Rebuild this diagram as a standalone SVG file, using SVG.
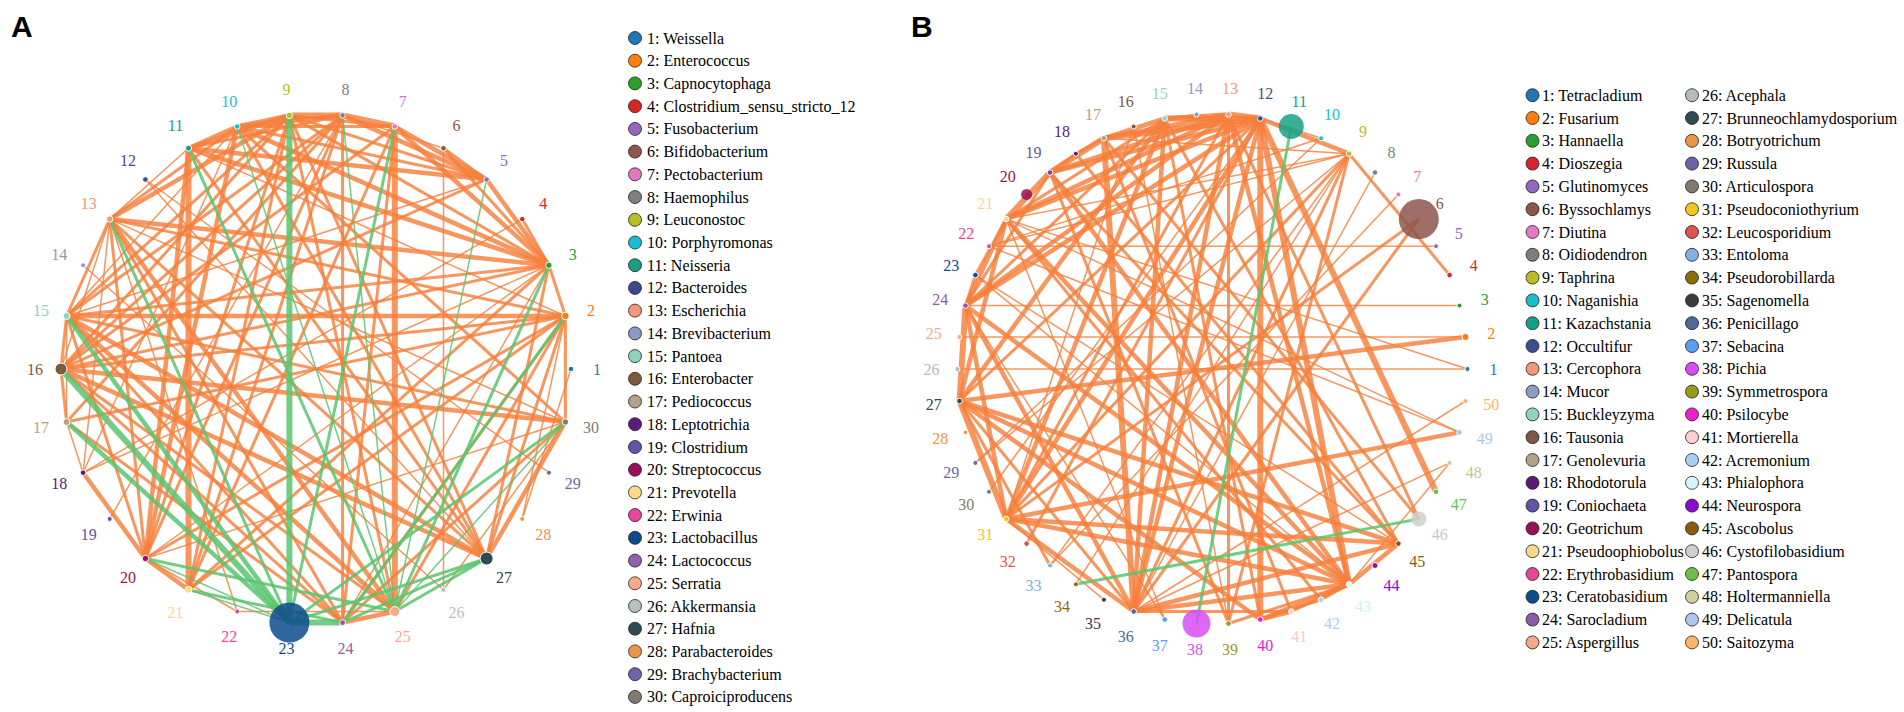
<svg xmlns="http://www.w3.org/2000/svg" width="1904" height="712" viewBox="0 0 1904 712">
<style>
.e{fill:none}
.o{stroke:#f57f3a;stroke-opacity:.82}
.g{stroke:#5cc46e;stroke-opacity:.85}
.w1{stroke-width:1.5}.w2{stroke-width:3}.w3{stroke-width:4.5}.w4{stroke-width:6}
.n{stroke:#fff;stroke-width:1}
.big{fill-opacity:.85;stroke:none}
.lbl{font-family:"Liberation Serif","Times New Roman",serif;font-size:16px;text-anchor:middle;dominant-baseline:central}
.leg{font-family:"Liberation Serif","Times New Roman",serif;font-size:16px;fill:#000}
.lc{stroke:#222;stroke-width:.8}
.panel{font-family:"Liberation Sans",Arial,sans-serif;font-weight:bold;font-size:30px;fill:#000}
</style>
<rect width="1904" height="712" fill="#fff"/>
<text class="panel" x="11" y="37">A</text>
<text class="panel" x="911" y="37">B</text>

<g id="connectors-A" class="e">
<path class="o w4" d="M342.6 115.4L289.4 115.4"/>
<path class="o w3" d="M289.4 115.4L237.2 126.5"/>
<path class="o w3" d="M237.2 126.5L188.5 148.2"/>
<path class="o w3" d="M289.4 115.4L188.5 148.2"/>
<path class="o w3" d="M342.6 115.4L237.2 126.5"/>
<path class="o w2" d="M342.6 115.4L188.5 148.2"/>
<path class="o w4" d="M394.8 126.5L342.6 115.4"/>
<path class="o w2" d="M394.8 126.5L289.4 115.4"/>
<path class="o w2" d="M394.8 126.5L237.2 126.5"/>
<path class="o w1" d="M443.5 148.2L342.6 115.4"/>
<path class="o w2" d="M443.5 148.2L486.6 179.5"/>
<path class="o w3" d="M394.8 126.5L486.6 179.5"/>
<path class="o w3" d="M342.6 115.4L486.6 179.5"/>
<path class="o w3" d="M486.6 179.5L548.9 265.3"/>
<path class="o w2" d="M522.3 219.1L548.9 265.3"/>
<path class="o w2" d="M443.5 148.2L548.9 265.3"/>
<path class="o w3" d="M394.8 126.5L548.9 265.3"/>
<path class="o w3" d="M188.5 148.2L486.6 179.5"/>
<path class="o w3" d="M188.5 148.2L548.9 265.3"/>
<path class="o w3" d="M237.2 126.5L548.9 265.3"/>
<path class="o w2" d="M237.2 126.5L486.6 179.5"/>
<path class="o w2" d="M289.4 115.4L486.6 179.5"/>
<path class="o w2" d="M289.4 115.4L548.9 265.3"/>
<path class="o w2" d="M109.7 219.1L237.2 126.5"/>
<path class="o w3" d="M109.7 219.1L289.4 115.4"/>
<path class="o w1" d="M109.7 219.1L188.5 148.2"/>
<path class="o w3" d="M109.7 219.1L548.9 265.3"/>
<path class="o w2" d="M109.7 219.1L565.4 316"/>
<path class="o w2" d="M109.7 219.1L66.6 316"/>
<path class="o w1" d="M109.7 219.1L61 369"/>
<path class="o w2" d="M109.7 219.1L342.6 622.6"/>
<path class="o w3" d="M109.7 219.1L394.8 611.5"/>
<path class="o w2" d="M109.7 219.1L486.6 558.5"/>
<path class="o w2" d="M109.7 219.1L145.4 558.5"/>
<path class="o w3" d="M66.6 316L565.4 316"/>
<path class="o w2" d="M66.6 316L548.9 265.3"/>
<path class="o w1" d="M66.6 316L486.6 179.5"/>
<path class="o w2" d="M66.6 316L289.4 115.4"/>
<path class="o w2" d="M66.6 316L342.6 115.4"/>
<path class="o w1" d="M66.6 316L237.2 126.5"/>
<path class="o w2" d="M66.6 316L61 369"/>
<path class="o w1" d="M66.6 316L66.6 422"/>
<path class="o w2" d="M66.6 316L145.4 558.5"/>
<path class="o w2" d="M66.6 316L342.6 622.6"/>
<path class="o w3" d="M66.6 316L394.8 611.5"/>
<path class="o w3" d="M66.6 316L486.6 558.5"/>
<path class="o w2" d="M66.6 316L565.4 422"/>
<path class="o w2" d="M61 369L66.6 422"/>
<path class="o w2" d="M61 369L565.4 316"/>
<path class="o w3" d="M61 369L565.4 422"/>
<path class="o w2" d="M61 369L342.6 622.6"/>
<path class="o w3" d="M61 369L486.6 558.5"/>
<path class="o w2" d="M61 369L394.8 611.5"/>
<path class="o w2" d="M61 369L289.4 115.4"/>
<path class="o w2" d="M66.6 422L565.4 316"/>
<path class="o w2" d="M66.6 422L342.6 115.4"/>
<path class="o w1" d="M66.6 422L83.1 472.7"/>
<path class="o w2" d="M66.6 422L342.6 622.6"/>
<path class="o w3" d="M83.1 472.7L145.4 558.5"/>
<path class="o w1" d="M83.1 472.7L548.9 265.3"/>
<path class="o w1" d="M83.1 472.7L237.2 126.5"/>
<path class="o w1" d="M83.1 472.7L109.7 219.1"/>
<path class="o w1" d="M109.7 518.9L342.6 115.4"/>
<path class="o w3" d="M145.4 558.5L188.5 589.8"/>
<path class="o w1" d="M145.4 558.5L237.2 611.5"/>
<path class="o w3" d="M145.4 558.5L188.5 148.2"/>
<path class="o w3" d="M145.4 558.5L237.2 126.5"/>
<path class="o w2" d="M145.4 558.5L289.4 115.4"/>
<path class="o w2" d="M145.4 558.5L342.6 115.4"/>
<path class="o w2" d="M145.4 558.5L565.4 316"/>
<path class="o w1" d="M145.4 558.5L548.9 265.3"/>
<path class="o w1" d="M145.4 558.5L565.4 422"/>
<path class="o w4" d="M188.5 589.8L188.5 148.2"/>
<path class="o w2" d="M188.5 589.8L289.4 115.4"/>
<path class="o w2" d="M188.5 589.8L342.6 115.4"/>
<path class="o w2" d="M188.5 589.8L394.8 126.5"/>
<path class="o w2" d="M188.5 589.8L548.9 265.3"/>
<path class="o w2" d="M188.5 589.8L565.4 316"/>
<path class="o w1" d="M237.2 611.5L394.8 611.5"/>
<path class="o w1" d="M237.2 611.5L109.7 219.1"/>
<path class="o w3" d="M342.6 622.6L394.8 611.5"/>
<path class="o w2" d="M342.6 622.6L342.6 115.4"/>
<path class="o w2" d="M342.6 622.6L394.8 126.5"/>
<path class="o w2" d="M342.6 622.6L565.4 316"/>
<path class="o w1" d="M342.6 622.6L548.9 265.3"/>
<path class="o w2" d="M342.6 622.6L565.4 422"/>
<path class="o w4" d="M394.8 611.5L394.8 126.5"/>
<path class="o w2" d="M394.8 611.5L565.4 316"/>
<path class="o w2" d="M394.8 611.5L289.4 115.4"/>
<path class="o w1" d="M443.5 589.8L443.5 148.2"/>
<path class="o w1" d="M443.5 589.8L565.4 422"/>
<path class="o w3" d="M486.6 558.5L565.4 422"/>
<path class="o w2" d="M486.6 558.5L565.4 316"/>
<path class="o w2" d="M486.6 558.5L548.9 265.3"/>
<path class="o w1" d="M486.6 558.5L145.4 179.5"/>
<path class="o w2" d="M486.6 558.5L188.5 148.2"/>
<path class="o w2" d="M486.6 558.5L237.2 126.5"/>
<path class="o w2" d="M486.6 558.5L289.4 115.4"/>
<path class="o w1" d="M522.3 518.9L571 369"/>
<path class="o w1" d="M522.3 518.9L565.4 316"/>
<path class="o w1" d="M548.9 472.7L145.4 179.5"/>
<path class="o w1" d="M83.1 265.3L443.5 589.8"/>
<path class="o w2" d="M565.4 422L565.4 316"/>
<path class="o w1" d="M565.4 422L109.7 219.1"/>
<path class="o w2" d="M565.4 422L237.2 126.5"/>
<path class="o w2" d="M565.4 316L548.9 265.3"/>
<path class="o w1" d="M522.3 219.1L83.1 472.7"/>
<path class="o w2" d="M394.8 126.5L61 369"/>
<path class="o w2" d="M342.6 115.4L61 369"/>
<path class="o w2" d="M486.6 179.5L61 369"/>
<path class="o w2" d="M548.9 265.3L61 369"/>
<path class="o w1" d="M188.5 148.2L565.4 316"/>
<path class="g w4" d="M289.4 115.4L289.4 622.6"/>
<path class="g w2" d="M394.8 126.5L289.4 622.6"/>
<path class="g w2" d="M188.5 148.2L394.8 611.5"/>
<path class="g w1" d="M237.2 126.5L394.8 611.5"/>
<path class="g w1" d="M342.6 115.4L394.8 611.5"/>
<path class="g w1" d="M486.6 179.5L394.8 611.5"/>
<path class="g w2" d="M548.9 265.3L394.8 611.5"/>
<path class="g w2" d="M565.4 316L342.6 622.6"/>
<path class="g w2" d="M109.7 219.1L289.4 622.6"/>
<path class="g w3" d="M66.6 316L289.4 622.6"/>
<path class="g w4" d="M61 369L289.4 622.6"/>
<path class="g w3" d="M66.6 422L289.4 622.6"/>
<path class="g w2" d="M145.4 558.5L394.8 611.5"/>
<path class="g w2" d="M188.5 589.8L342.6 622.6"/>
<path class="g w1" d="M188.5 589.8L289.4 622.6"/>
<path class="g w4" d="M289.4 622.6L342.6 622.6"/>
<path class="g w2" d="M486.6 558.5L289.4 622.6"/>
<path class="g w2" d="M486.6 558.5L342.6 622.6"/>
<path class="g w2" d="M486.6 558.5L394.8 611.5"/>
<path class="g w2" d="M565.4 422L289.4 622.6"/>
<path class="g w1" d="M565.4 422L394.8 611.5"/>
<path class="g w1" d="M145.4 558.5L289.4 622.6"/>
</g>

<g id="connectors-B" class="e">
<path class="o w4" d="M1260.3 118.5L1228.5 114.5"/>
<path class="o w4" d="M1260.3 118.5L1164.7 118.5"/>
<path class="o w3" d="M1228.5 114.5L1164.7 118.5"/>
<path class="o w1" d="M1196.5 114.5L1164.7 118.5"/>
<path class="o w4" d="M1260.3 118.5L1103.9 138.3"/>
<path class="o w3" d="M1228.5 114.5L1103.9 138.3"/>
<path class="o w3" d="M1164.7 118.5L1103.9 138.3"/>
<path class="o w2" d="M1103.9 138.3L1075.9 153.7"/>
<path class="o w4" d="M1103.9 138.3L1050 172.5"/>
<path class="o w2" d="M1075.9 153.7L1050 172.5"/>
<path class="o w4" d="M1050 172.5L1006.2 219.1"/>
<path class="o w3" d="M1050 172.5L1260.3 118.5"/>
<path class="o w3" d="M1050 172.5L1228.5 114.5"/>
<path class="o w3" d="M1006.2 219.1L965.5 305.6"/>
<path class="o w2" d="M1006.2 219.1L975.4 275.1"/>
<path class="o w2" d="M975.4 275.1L965.5 305.6"/>
<path class="o w4" d="M965.5 305.6L959.5 401"/>
<path class="o w3" d="M1006.2 219.1L1260.3 118.5"/>
<path class="o w3" d="M1006.2 219.1L1228.5 114.5"/>
<path class="o w2" d="M1006.2 219.1L1164.7 118.5"/>
<path class="o w3" d="M1260.3 118.5L1349.1 153.7"/>
<path class="o w1" d="M1260.3 118.5L1321.1 138.3"/>
<path class="o w1" d="M1349.1 153.7L1103.9 138.3"/>
<path class="o w1" d="M1349.1 153.7L1006.2 219.1"/>
<path class="o w1" d="M1349.1 153.7L989 246.2"/>
<path class="o w1" d="M1321.1 138.3L989 246.2"/>
<path class="o w2" d="M1349.1 153.7L1449.6 275.1"/>
<path class="o w1" d="M1375 172.5L1133.7 611.5"/>
<path class="o w1" d="M1398.4 194.4L1050 565.5"/>
<path class="o w1" d="M1436 246.2L989 246.2"/>
<path class="o w2" d="M1418.8 219.1L1006.2 518.9"/>
<path class="o w2" d="M1418.8 219.1L1133.7 611.5"/>
<path class="o w1" d="M1459.5 305.6L965.5 305.6"/>
<path class="o w1" d="M1465.5 337L959.5 337"/>
<path class="o w3" d="M1465.5 337L959.5 401"/>
<path class="o w1" d="M1467.5 369L957.5 369"/>
<path class="o w1" d="M1467.5 369L1006.2 219.1"/>
<path class="o w1" d="M1465.5 401L1133.7 611.5"/>
<path class="o w3" d="M1459.5 432.4L1006.2 518.9"/>
<path class="o w1" d="M1459.5 432.4L1006.2 219.1"/>
<path class="o w1" d="M1449.6 462.9L1133.7 611.5"/>
<path class="o w1" d="M1449.6 462.9L1349.1 584.3"/>
<path class="o w4" d="M1436 491.8L1260.3 118.5"/>
<path class="o w2" d="M1418.8 518.9L1103.9 138.3"/>
<path class="o w4" d="M1260.3 118.5L1349.1 584.3"/>
<path class="o w3" d="M1228.5 114.5L1349.1 584.3"/>
<path class="o w3" d="M1050 172.5L1349.1 584.3"/>
<path class="o w3" d="M1006.2 219.1L1349.1 584.3"/>
<path class="o w3" d="M965.5 305.6L1349.1 584.3"/>
<path class="o w3" d="M959.5 401L1349.1 584.3"/>
<path class="o w3" d="M1006.2 518.9L1349.1 584.3"/>
<path class="o w3" d="M1133.7 611.5L1349.1 584.3"/>
<path class="o w3" d="M1260.3 619.5L1349.1 584.3"/>
<path class="o w3" d="M1349.1 584.3L1398.4 543.6"/>
<path class="o w2" d="M1291.3 611.5L1349.1 584.3"/>
<path class="o w2" d="M1321.1 599.7L1349.1 584.3"/>
<path class="o w4" d="M1260.3 118.5L1260.3 619.5"/>
<path class="o w2" d="M1228.5 114.5L1228.5 623.5"/>
<path class="o w2" d="M1164.7 118.5L1260.3 619.5"/>
<path class="o w3" d="M1260.3 619.5L1291.3 611.5"/>
<path class="o w2" d="M1260.3 619.5L1321.1 599.7"/>
<path class="o w3" d="M1260.3 619.5L959.5 401"/>
<path class="o w2" d="M1228.5 623.5L1349.1 584.3"/>
<path class="o w2" d="M1228.5 623.5L1349.1 153.7"/>
<path class="o w2" d="M1050 172.5L1228.5 623.5"/>
<path class="o w4" d="M1133.7 611.5L1103.9 138.3"/>
<path class="o w3" d="M1133.7 611.5L1164.7 118.5"/>
<path class="o w3" d="M1133.7 611.5L1228.5 114.5"/>
<path class="o w3" d="M1133.7 611.5L1260.3 118.5"/>
<path class="o w3" d="M1133.7 611.5L965.5 305.6"/>
<path class="o w2" d="M1133.7 611.5L959.5 401"/>
<path class="o w3" d="M1133.7 611.5L1006.2 518.9"/>
<path class="o w3" d="M1133.7 611.5L1398.4 543.6"/>
<path class="o w2" d="M1133.7 611.5L1291.3 611.5"/>
<path class="o w2" d="M1133.7 611.5L1349.1 153.7"/>
<path class="o w1" d="M1164.7 619.5L1006.2 219.1"/>
<path class="o w1" d="M1164.7 619.5L965.5 305.6"/>
<path class="o w1" d="M1103.9 599.7L1006.2 518.9"/>
<path class="o w1" d="M1075.9 584.3L1349.1 153.7"/>
<path class="o w2" d="M1050 565.5L959.5 401"/>
<path class="o w2" d="M1026.6 543.6L1260.3 118.5"/>
<path class="o w4" d="M1006.2 518.9L959.5 401"/>
<path class="o w3" d="M1006.2 518.9L965.5 305.6"/>
<path class="o w3" d="M1006.2 518.9L1398.4 543.6"/>
<path class="o w3" d="M1006.2 518.9L1260.3 118.5"/>
<path class="o w2" d="M1006.2 518.9L1228.5 114.5"/>
<path class="o w3" d="M1006.2 518.9L1164.7 118.5"/>
<path class="o w2" d="M1006.2 518.9L1349.1 153.7"/>
<path class="o w1" d="M989 491.8L1260.3 118.5"/>
<path class="o w1" d="M975.4 462.9L1349.1 153.7"/>
<path class="o w3" d="M959.5 401L1398.4 543.6"/>
<path class="o w2" d="M959.5 401L1260.3 118.5"/>
<path class="o w3" d="M959.5 401L1164.7 118.5"/>
<path class="o w3" d="M959.5 401L1006.2 219.1"/>
<path class="o w3" d="M965.5 305.6L1260.3 118.5"/>
<path class="o w3" d="M965.5 305.6L1228.5 114.5"/>
<path class="o w2" d="M965.5 305.6L1164.7 118.5"/>
<path class="o w2" d="M965.5 305.6L1050 172.5"/>
<path class="o w1" d="M975.4 275.1L1349.1 584.3"/>
<path class="o w1" d="M975.4 275.1L1398.4 543.6"/>
<path class="o w2" d="M1398.4 543.6L1164.7 118.5"/>
<path class="o w2" d="M1398.4 543.6L1050 172.5"/>
<path class="o w2" d="M1418.8 518.9L1228.5 114.5"/>
<path class="o w2" d="M1321.1 599.7L1006.2 219.1"/>
<path class="o w1" d="M1050 565.5L1349.1 153.7"/>
<path class="o w1" d="M975.4 462.9L1321.1 138.3"/>
<path class="o w2" d="M1075.9 153.7L1398.4 543.6"/>
<path class="o w2" d="M1103.9 138.3L1291.3 611.5"/>
<path class="o w1" d="M1133.7 126.5L1006.2 518.9"/>
<path class="o w1" d="M1133.7 126.5L1228.5 623.5"/>
<path class="o w1" d="M989 246.2L1459.5 432.4"/>
<path class="g w2" d="M1291.3 126.5L1196.5 623.5"/>
<path class="g w2" d="M1075.9 584.3L1418.8 518.9"/>
</g>

<g id="nodes-A">
<g id="a-n1"><circle class="n" cx="571" cy="369" r="2.8" fill="#1f77b4"/><text class="lbl" x="597" y="369" fill="#1f77b4">1</text></g>
<g id="a-n2"><circle class="n" cx="565.4" cy="316" r="3.8" fill="#ff7f0e"/><text class="lbl" x="590.9" y="310.6" fill="#ff7f0e">2</text></g>
<g id="a-n3"><circle class="n" cx="548.9" cy="265.3" r="3.2" fill="#2ca02c"/><text class="lbl" x="572.7" y="254.7" fill="#2ca02c">3</text></g>
<g id="a-n4"><circle class="n" cx="522.3" cy="219.1" r="2.8" fill="#d62728"/><text class="lbl" x="543.3" y="203.8" fill="#d62728">4</text></g>
<g id="a-n5"><circle class="n" cx="486.6" cy="179.5" r="2.8" fill="#9467bd"/><text class="lbl" x="504" y="160.2" fill="#9467bd">5</text></g>
<g id="a-n6"><circle class="n" cx="443.5" cy="148.2" r="2.8" fill="#8c564b"/><text class="lbl" x="456.5" y="125.7" fill="#8c564b">6</text></g>
<g id="a-n7"><circle class="n" cx="394.8" cy="126.5" r="2.8" fill="#e377c2"/><text class="lbl" x="402.8" y="101.7" fill="#e377c2">7</text></g>
<g id="a-n8"><circle class="n" cx="342.6" cy="115.4" r="2.8" fill="#7f7f7f"/><text class="lbl" x="345.4" y="89.5" fill="#7f7f7f">8</text></g>
<g id="a-n9"><circle class="n" cx="289.4" cy="115.4" r="3.2" fill="#bcbd22"/><text class="lbl" x="286.6" y="89.5" fill="#bcbd22">9</text></g>
<g id="a-n10"><circle class="n" cx="237.2" cy="126.5" r="2.8" fill="#17becf"/><text class="lbl" x="229.2" y="101.7" fill="#17becf">10</text></g>
<g id="a-n11"><circle class="n" cx="188.5" cy="148.2" r="3" fill="#1a9e86"/><text class="lbl" x="175.5" y="125.7" fill="#1a9e86">11</text></g>
<g id="a-n12"><circle class="n" cx="145.4" cy="179.5" r="2.8" fill="#3b4a8c"/><text class="lbl" x="128" y="160.2" fill="#3b4a8c">12</text></g>
<g id="a-n13"><circle class="n" cx="109.7" cy="219.1" r="3.2" fill="#f4967a"/><text class="lbl" x="88.7" y="203.8" fill="#f4967a">13</text></g>
<g id="a-n14"><circle class="n" cx="83.1" cy="265.3" r="2.5" fill="#8b9bc4"/><text class="lbl" x="59.3" y="254.7" fill="#8b9bc4">14</text></g>
<g id="a-n15"><circle class="n" cx="66.6" cy="316" r="3.5" fill="#8dd3c0"/><text class="lbl" x="41.1" y="310.6" fill="#8dd3c0">15</text></g>
<g id="a-n16"><circle class="n" cx="61" cy="369" r="6" fill="#7b5b3f"/><text class="lbl" x="35" y="369" fill="#7b5b3f">16</text></g>
<g id="a-n17"><circle class="n" cx="66.6" cy="422" r="3.5" fill="#b3a286"/><text class="lbl" x="41.1" y="427.4" fill="#b3a286">17</text></g>
<g id="a-n18"><circle class="n" cx="83.1" cy="472.7" r="2.8" fill="#5c1a7b"/><text class="lbl" x="59.3" y="483.3" fill="#5c1a7b">18</text></g>
<g id="a-n19"><circle class="n" cx="109.7" cy="518.9" r="2.5" fill="#5e55a5"/><text class="lbl" x="88.7" y="534.2" fill="#5e55a5">19</text></g>
<g id="a-n20"><circle class="n" cx="145.4" cy="558.5" r="3.2" fill="#9c0e58"/><text class="lbl" x="128" y="577.8" fill="#9c0e58">20</text></g>
<g id="a-n21"><circle class="n" cx="188.5" cy="589.8" r="3.5" fill="#fdd98b"/><text class="lbl" x="175.5" y="612.3" fill="#fdd98b">21</text></g>
<g id="a-n22"><circle class="n" cx="237.2" cy="611.5" r="2.5" fill="#e8479b"/><text class="lbl" x="229.2" y="636.3" fill="#e8479b">22</text></g>
<g id="a-n23"><circle class="big" cx="289.4" cy="622.6" r="20" fill="#0d4a8c"/><text class="lbl" x="286.6" y="648.5" fill="#0d4a8c">23</text></g>
<g id="a-n24"><circle class="n" cx="342.6" cy="622.6" r="3" fill="#9460aa"/><text class="lbl" x="345.4" y="648.5" fill="#9460aa">24</text></g>
<g id="a-n25"><circle class="n" cx="394.8" cy="611.5" r="5" fill="#f9a98b"/><text class="lbl" x="402.8" y="636.3" fill="#f9a98b">25</text></g>
<g id="a-n26"><circle class="n" cx="443.5" cy="589.8" r="2.5" fill="#b8c0bf"/><text class="lbl" x="456.5" y="612.3" fill="#b8c0bf">26</text></g>
<g id="a-n27"><circle class="n" cx="486.6" cy="558.5" r="6.5" fill="#2f4a52"/><text class="lbl" x="504" y="577.8" fill="#2f4a52">27</text></g>
<g id="a-n28"><circle class="n" cx="522.3" cy="518.9" r="2.5" fill="#e9964b"/><text class="lbl" x="543.3" y="534.2" fill="#e9964b">28</text></g>
<g id="a-n29"><circle class="n" cx="548.9" cy="472.7" r="2.5" fill="#6d65a6"/><text class="lbl" x="572.7" y="483.3" fill="#6d65a6">29</text></g>
<g id="a-n30"><circle class="n" cx="565.4" cy="422" r="3.2" fill="#807b6e"/><text class="lbl" x="590.9" y="427.4" fill="#807b6e">30</text></g>
</g>

<g id="nodes-B">
<g id="b-n1"><circle class="n" cx="1467.5" cy="369" r="2.5" fill="#1f77b4"/><text class="lbl" x="1493.5" y="369" fill="#1f77b4">1</text></g>
<g id="b-n2"><circle class="n" cx="1465.5" cy="337" r="3.5" fill="#ff7f0e"/><text class="lbl" x="1491.3" y="333.8" fill="#ff7f0e">2</text></g>
<g id="b-n3"><circle class="n" cx="1459.5" cy="305.6" r="2.5" fill="#2ca02c"/><text class="lbl" x="1484.7" y="299.1" fill="#2ca02c">3</text></g>
<g id="b-n4"><circle class="n" cx="1449.6" cy="275.1" r="2.8" fill="#d62728"/><text class="lbl" x="1473.8" y="265.6" fill="#d62728">4</text></g>
<g id="b-n5"><circle class="n" cx="1436" cy="246.2" r="2.5" fill="#9467bd"/><text class="lbl" x="1458.7" y="233.6" fill="#9467bd">5</text></g>
<g id="b-n6"><circle class="big" cx="1418.8" cy="219.1" r="20" fill="#8c564b"/><text class="lbl" x="1439.8" y="203.8" fill="#8c564b">6</text></g>
<g id="b-n7"><circle class="n" cx="1398.4" cy="194.4" r="2.5" fill="#e377c2"/><text class="lbl" x="1417.3" y="176.6" fill="#e377c2">7</text></g>
<g id="b-n8"><circle class="n" cx="1375" cy="172.5" r="2.8" fill="#7f7f7f"/><text class="lbl" x="1391.6" y="152.5" fill="#7f7f7f">8</text></g>
<g id="b-n9"><circle class="n" cx="1349.1" cy="153.7" r="2.8" fill="#bcbd22"/><text class="lbl" x="1363.1" y="131.7" fill="#bcbd22">9</text></g>
<g id="b-n10"><circle class="n" cx="1321.1" cy="138.3" r="2.5" fill="#17becf"/><text class="lbl" x="1332.1" y="114.7" fill="#17becf">10</text></g>
<g id="b-n11"><circle class="big" cx="1291.3" cy="126.5" r="12.5" fill="#17a085"/><text class="lbl" x="1299.3" y="101.8" fill="#17a085">11</text></g>
<g id="b-n12"><circle class="n" cx="1260.3" cy="118.5" r="2.8" fill="#3b4f8a"/><text class="lbl" x="1265.2" y="93" fill="#3b4f8a">12</text></g>
<g id="b-n13"><circle class="n" cx="1228.5" cy="114.5" r="2.8" fill="#f4977b"/><text class="lbl" x="1230.1" y="88.6" fill="#f4977b">13</text></g>
<g id="b-n14"><circle class="n" cx="1196.5" cy="114.5" r="2.5" fill="#8c9cc3"/><text class="lbl" x="1194.9" y="88.6" fill="#8c9cc3">14</text></g>
<g id="b-n15"><circle class="n" cx="1164.7" cy="118.5" r="2.8" fill="#8fd3c1"/><text class="lbl" x="1159.8" y="93" fill="#8fd3c1">15</text></g>
<g id="b-n16"><circle class="n" cx="1133.7" cy="126.5" r="2.5" fill="#7a5a44"/><text class="lbl" x="1125.7" y="101.8" fill="#7a5a44">16</text></g>
<g id="b-n17"><circle class="n" cx="1103.9" cy="138.3" r="2.8" fill="#b3a184"/><text class="lbl" x="1092.9" y="114.7" fill="#b3a184">17</text></g>
<g id="b-n18"><circle class="n" cx="1075.9" cy="153.7" r="2.5" fill="#5a1a79"/><text class="lbl" x="1061.9" y="131.7" fill="#5a1a79">18</text></g>
<g id="b-n19"><circle class="n" cx="1050" cy="172.5" r="2.8" fill="#5e56a3"/><text class="lbl" x="1033.4" y="152.5" fill="#5e56a3">19</text></g>
<g id="b-n20"><circle class="big" cx="1026.6" cy="194.4" r="5.5" fill="#9c0d57"/><text class="lbl" x="1007.7" y="176.6" fill="#9c0d57">20</text></g>
<g id="b-n21"><circle class="n" cx="1006.2" cy="219.1" r="2.8" fill="#fcd98a"/><text class="lbl" x="985.2" y="203.8" fill="#fcd98a">21</text></g>
<g id="b-n22"><circle class="n" cx="989" cy="246.2" r="2.5" fill="#e8459a"/><text class="lbl" x="966.3" y="233.6" fill="#e8459a">22</text></g>
<g id="b-n23"><circle class="n" cx="975.4" cy="275.1" r="2.8" fill="#0d4d8c"/><text class="lbl" x="951.2" y="265.6" fill="#0d4d8c">23</text></g>
<g id="b-n24"><circle class="n" cx="965.5" cy="305.6" r="2.8" fill="#8f5aa5"/><text class="lbl" x="940.3" y="299.1" fill="#8f5aa5">24</text></g>
<g id="b-n25"><circle class="n" cx="959.5" cy="337" r="2.5" fill="#f7a88a"/><text class="lbl" x="933.7" y="333.8" fill="#f7a88a">25</text></g>
<g id="b-n26"><circle class="n" cx="957.5" cy="369" r="2.5" fill="#b5bdbc"/><text class="lbl" x="931.5" y="369" fill="#b5bdbc">26</text></g>
<g id="b-n27"><circle class="n" cx="959.5" cy="401" r="2.8" fill="#2f4b53"/><text class="lbl" x="933.7" y="404.2" fill="#2f4b53">27</text></g>
<g id="b-n28"><circle class="n" cx="965.5" cy="432.4" r="2.2" fill="#e8964a"/><text class="lbl" x="940.3" y="438.9" fill="#e8964a">28</text></g>
<g id="b-n29"><circle class="n" cx="975.4" cy="462.9" r="2.5" fill="#6c65a3"/><text class="lbl" x="951.2" y="472.4" fill="#6c65a3">29</text></g>
<g id="b-n30"><circle class="n" cx="989" cy="491.8" r="2.5" fill="#7f7a6d"/><text class="lbl" x="966.3" y="504.4" fill="#7f7a6d">30</text></g>
<g id="b-n31"><circle class="n" cx="1006.2" cy="518.9" r="2.8" fill="#f5c518"/><text class="lbl" x="985.2" y="534.2" fill="#f5c518">31</text></g>
<g id="b-n32"><circle class="n" cx="1026.6" cy="543.6" r="2.8" fill="#d9534f"/><text class="lbl" x="1007.7" y="561.4" fill="#d9534f">32</text></g>
<g id="b-n33"><circle class="n" cx="1050" cy="565.5" r="2.5" fill="#7fb0e6"/><text class="lbl" x="1033.4" y="585.5" fill="#7fb0e6">33</text></g>
<g id="b-n34"><circle class="n" cx="1075.9" cy="584.3" r="2.5" fill="#8a6d0b"/><text class="lbl" x="1061.9" y="606.3" fill="#8a6d0b">34</text></g>
<g id="b-n35"><circle class="n" cx="1103.9" cy="599.7" r="2.5" fill="#3a3a3a"/><text class="lbl" x="1092.9" y="623.3" fill="#3a3a3a">35</text></g>
<g id="b-n36"><circle class="n" cx="1133.7" cy="611.5" r="2.8" fill="#4a6a95"/><text class="lbl" x="1125.7" y="636.2" fill="#4a6a95">36</text></g>
<g id="b-n37"><circle class="n" cx="1164.7" cy="619.5" r="2.8" fill="#5b9cf5"/><text class="lbl" x="1159.8" y="645" fill="#5b9cf5">37</text></g>
<g id="b-n38"><circle class="big" cx="1196.5" cy="623.5" r="14" fill="#d94cf5"/><text class="lbl" x="1194.9" y="649.4" fill="#d94cf5">38</text></g>
<g id="b-n39"><circle class="n" cx="1228.5" cy="623.5" r="2.8" fill="#999a22"/><text class="lbl" x="1230.1" y="649.4" fill="#999a22">39</text></g>
<g id="b-n40"><circle class="n" cx="1260.3" cy="619.5" r="2.8" fill="#f01cd0"/><text class="lbl" x="1265.2" y="645" fill="#f01cd0">40</text></g>
<g id="b-n41"><circle class="n" cx="1291.3" cy="611.5" r="2.8" fill="#fcd0d0"/><text class="lbl" x="1299.3" y="636.2" fill="#fcc8c8">41</text></g>
<g id="b-n42"><circle class="n" cx="1321.1" cy="599.7" r="2.8" fill="#a6d0f5"/><text class="lbl" x="1332.1" y="623.3" fill="#a6d0f5">42</text></g>
<g id="b-n43"><circle class="n" cx="1349.1" cy="584.3" r="2.8" fill="#d4f8fa"/><text class="lbl" x="1363.1" y="606.3" fill="#c8f4f7">43</text></g>
<g id="b-n44"><circle class="n" cx="1375" cy="565.5" r="3" fill="#8b0bd0"/><text class="lbl" x="1391.6" y="585.5" fill="#8b0bd0">44</text></g>
<g id="b-n45"><circle class="n" cx="1398.4" cy="543.6" r="2.8" fill="#8b5a0b"/><text class="lbl" x="1417.3" y="561.4" fill="#8b5a0b">45</text></g>
<g id="b-n46"><circle class="big" cx="1418.8" cy="518.9" r="7.5" fill="#cfcfcf"/><text class="lbl" x="1439.8" y="534.2" fill="#c8c8c8">46</text></g>
<g id="b-n47"><circle class="n" cx="1436" cy="491.8" r="2.8" fill="#6cc04a"/><text class="lbl" x="1458.7" y="504.4" fill="#6cc04a">47</text></g>
<g id="b-n48"><circle class="n" cx="1449.6" cy="462.9" r="2.5" fill="#cfcf9f"/><text class="lbl" x="1473.8" y="472.4" fill="#c4c48f">48</text></g>
<g id="b-n49"><circle class="n" cx="1459.5" cy="432.4" r="2.8" fill="#aec7e8"/><text class="lbl" x="1484.7" y="438.9" fill="#aec7e8">49</text></g>
<g id="b-n50"><circle class="n" cx="1465.5" cy="401" r="2.5" fill="#fdb46b"/><text class="lbl" x="1491.3" y="404.2" fill="#fdb46b">50</text></g>
</g>

<g id="legend-A">
<g transform="translate(0,38)"><circle class="lc" cx="635" r="6.5" fill="#1f77b4"/><text class="leg" x="647" y="5.5">1: Weissella</text></g>
<g transform="translate(0,60.7)"><circle class="lc" cx="635" r="6.5" fill="#ff7f0e"/><text class="leg" x="647" y="5.5">2: Enterococcus</text></g>
<g transform="translate(0,83.4)"><circle class="lc" cx="635" r="6.5" fill="#2ca02c"/><text class="leg" x="647" y="5.5">3: Capnocytophaga</text></g>
<g transform="translate(0,106.2)"><circle class="lc" cx="635" r="6.5" fill="#d62728"/><text class="leg" x="647" y="5.5">4: Clostridium_sensu_stricto_12</text></g>
<g transform="translate(0,128.9)"><circle class="lc" cx="635" r="6.5" fill="#9467bd"/><text class="leg" x="647" y="5.5">5: Fusobacterium</text></g>
<g transform="translate(0,151.6)"><circle class="lc" cx="635" r="6.5" fill="#8c564b"/><text class="leg" x="647" y="5.5">6: Bifidobacterium</text></g>
<g transform="translate(0,174.3)"><circle class="lc" cx="635" r="6.5" fill="#e377c2"/><text class="leg" x="647" y="5.5">7: Pectobacterium</text></g>
<g transform="translate(0,197)"><circle class="lc" cx="635" r="6.5" fill="#7f7f7f"/><text class="leg" x="647" y="5.5">8: Haemophilus</text></g>
<g transform="translate(0,219.8)"><circle class="lc" cx="635" r="6.5" fill="#bcbd22"/><text class="leg" x="647" y="5.5">9: Leuconostoc</text></g>
<g transform="translate(0,242.5)"><circle class="lc" cx="635" r="6.5" fill="#17becf"/><text class="leg" x="647" y="5.5">10: Porphyromonas</text></g>
<g transform="translate(0,265.2)"><circle class="lc" cx="635" r="6.5" fill="#1a9e86"/><text class="leg" x="647" y="5.5">11: Neisseria</text></g>
<g transform="translate(0,287.9)"><circle class="lc" cx="635" r="6.5" fill="#3b4a8c"/><text class="leg" x="647" y="5.5">12: Bacteroides</text></g>
<g transform="translate(0,310.6)"><circle class="lc" cx="635" r="6.5" fill="#f4967a"/><text class="leg" x="647" y="5.5">13: Escherichia</text></g>
<g transform="translate(0,333.4)"><circle class="lc" cx="635" r="6.5" fill="#8b9bc4"/><text class="leg" x="647" y="5.5">14: Brevibacterium</text></g>
<g transform="translate(0,356.1)"><circle class="lc" cx="635" r="6.5" fill="#8dd3c0"/><text class="leg" x="647" y="5.5">15: Pantoea</text></g>
<g transform="translate(0,378.8)"><circle class="lc" cx="635" r="6.5" fill="#7b5b3f"/><text class="leg" x="647" y="5.5">16: Enterobacter</text></g>
<g transform="translate(0,401.5)"><circle class="lc" cx="635" r="6.5" fill="#b3a286"/><text class="leg" x="647" y="5.5">17: Pediococcus</text></g>
<g transform="translate(0,424.2)"><circle class="lc" cx="635" r="6.5" fill="#5c1a7b"/><text class="leg" x="647" y="5.5">18: Leptotrichia</text></g>
<g transform="translate(0,447)"><circle class="lc" cx="635" r="6.5" fill="#5e55a5"/><text class="leg" x="647" y="5.5">19: Clostridium</text></g>
<g transform="translate(0,469.7)"><circle class="lc" cx="635" r="6.5" fill="#9c0e58"/><text class="leg" x="647" y="5.5">20: Streptococcus</text></g>
<g transform="translate(0,492.4)"><circle class="lc" cx="635" r="6.5" fill="#fdd98b"/><text class="leg" x="647" y="5.5">21: Prevotella</text></g>
<g transform="translate(0,515.1)"><circle class="lc" cx="635" r="6.5" fill="#e8479b"/><text class="leg" x="647" y="5.5">22: Erwinia</text></g>
<g transform="translate(0,537.8)"><circle class="lc" cx="635" r="6.5" fill="#0d4a8c"/><text class="leg" x="647" y="5.5">23: Lactobacillus</text></g>
<g transform="translate(0,560.6)"><circle class="lc" cx="635" r="6.5" fill="#9460aa"/><text class="leg" x="647" y="5.5">24: Lactococcus</text></g>
<g transform="translate(0,583.3)"><circle class="lc" cx="635" r="6.5" fill="#f9a98b"/><text class="leg" x="647" y="5.5">25: Serratia</text></g>
<g transform="translate(0,606)"><circle class="lc" cx="635" r="6.5" fill="#b8c0bf"/><text class="leg" x="647" y="5.5">26: Akkermansia</text></g>
<g transform="translate(0,628.7)"><circle class="lc" cx="635" r="6.5" fill="#2f4a52"/><text class="leg" x="647" y="5.5">27: Hafnia</text></g>
<g transform="translate(0,651.4)"><circle class="lc" cx="635" r="6.5" fill="#e9964b"/><text class="leg" x="647" y="5.5">28: Parabacteroides</text></g>
<g transform="translate(0,674.2)"><circle class="lc" cx="635" r="6.5" fill="#6d65a6"/><text class="leg" x="647" y="5.5">29: Brachybacterium</text></g>
<g transform="translate(0,696.9)"><circle class="lc" cx="635" r="6.5" fill="#807b6e"/><text class="leg" x="647" y="5.5">30: Caproiciproducens</text></g>
</g>

<g id="legend-B">
<g transform="translate(0,95.2)"><circle class="lc" cx="1532.5" r="6.5" fill="#1f77b4"/><text class="leg" x="1542" y="5.5">1: Tetracladium</text><circle class="lc" cx="1692" r="6.5" fill="#b5bdbc"/><text class="leg" x="1702" y="5.5">26: Acephala</text></g>
<g transform="translate(0,118)"><circle class="lc" cx="1532.5" r="6.5" fill="#ff7f0e"/><text class="leg" x="1542" y="5.5">2: Fusarium</text><circle class="lc" cx="1692" r="6.5" fill="#2f4b53"/><text class="leg" x="1702" y="5.5">27: Brunneochlamydosporium</text></g>
<g transform="translate(0,140.8)"><circle class="lc" cx="1532.5" r="6.5" fill="#2ca02c"/><text class="leg" x="1542" y="5.5">3: Hannaella</text><circle class="lc" cx="1692" r="6.5" fill="#e8964a"/><text class="leg" x="1702" y="5.5">28: Botryotrichum</text></g>
<g transform="translate(0,163.6)"><circle class="lc" cx="1532.5" r="6.5" fill="#d62728"/><text class="leg" x="1542" y="5.5">4: Dioszegia</text><circle class="lc" cx="1692" r="6.5" fill="#6c65a3"/><text class="leg" x="1702" y="5.5">29: Russula</text></g>
<g transform="translate(0,186.4)"><circle class="lc" cx="1532.5" r="6.5" fill="#9467bd"/><text class="leg" x="1542" y="5.5">5: Glutinomyces</text><circle class="lc" cx="1692" r="6.5" fill="#7f7a6d"/><text class="leg" x="1702" y="5.5">30: Articulospora</text></g>
<g transform="translate(0,209.2)"><circle class="lc" cx="1532.5" r="6.5" fill="#8c564b"/><text class="leg" x="1542" y="5.5">6: Byssochlamys</text><circle class="lc" cx="1692" r="6.5" fill="#f5c518"/><text class="leg" x="1702" y="5.5">31: Pseudoconiothyrium</text></g>
<g transform="translate(0,232)"><circle class="lc" cx="1532.5" r="6.5" fill="#e377c2"/><text class="leg" x="1542" y="5.5">7: Diutina</text><circle class="lc" cx="1692" r="6.5" fill="#d9534f"/><text class="leg" x="1702" y="5.5">32: Leucosporidium</text></g>
<g transform="translate(0,254.8)"><circle class="lc" cx="1532.5" r="6.5" fill="#7f7f7f"/><text class="leg" x="1542" y="5.5">8: Oidiodendron</text><circle class="lc" cx="1692" r="6.5" fill="#7fb0e6"/><text class="leg" x="1702" y="5.5">33: Entoloma</text></g>
<g transform="translate(0,277.6)"><circle class="lc" cx="1532.5" r="6.5" fill="#bcbd22"/><text class="leg" x="1542" y="5.5">9: Taphrina</text><circle class="lc" cx="1692" r="6.5" fill="#8a6d0b"/><text class="leg" x="1702" y="5.5">34: Pseudorobillarda</text></g>
<g transform="translate(0,300.4)"><circle class="lc" cx="1532.5" r="6.5" fill="#17becf"/><text class="leg" x="1542" y="5.5">10: Naganishia</text><circle class="lc" cx="1692" r="6.5" fill="#3a3a3a"/><text class="leg" x="1702" y="5.5">35: Sagenomella</text></g>
<g transform="translate(0,323.2)"><circle class="lc" cx="1532.5" r="6.5" fill="#17a085"/><text class="leg" x="1542" y="5.5">11: Kazachstania</text><circle class="lc" cx="1692" r="6.5" fill="#4a6a95"/><text class="leg" x="1702" y="5.5">36: Penicillago</text></g>
<g transform="translate(0,346)"><circle class="lc" cx="1532.5" r="6.5" fill="#3b4f8a"/><text class="leg" x="1542" y="5.5">12: Occultifur</text><circle class="lc" cx="1692" r="6.5" fill="#5b9cf5"/><text class="leg" x="1702" y="5.5">37: Sebacina</text></g>
<g transform="translate(0,368.8)"><circle class="lc" cx="1532.5" r="6.5" fill="#f4977b"/><text class="leg" x="1542" y="5.5">13: Cercophora</text><circle class="lc" cx="1692" r="6.5" fill="#d94cf5"/><text class="leg" x="1702" y="5.5">38: Pichia</text></g>
<g transform="translate(0,391.6)"><circle class="lc" cx="1532.5" r="6.5" fill="#8c9cc3"/><text class="leg" x="1542" y="5.5">14: Mucor</text><circle class="lc" cx="1692" r="6.5" fill="#999a22"/><text class="leg" x="1702" y="5.5">39: Symmetrospora</text></g>
<g transform="translate(0,414.4)"><circle class="lc" cx="1532.5" r="6.5" fill="#8fd3c1"/><text class="leg" x="1542" y="5.5">15: Buckleyzyma</text><circle class="lc" cx="1692" r="6.5" fill="#f01cd0"/><text class="leg" x="1702" y="5.5">40: Psilocybe</text></g>
<g transform="translate(0,437.2)"><circle class="lc" cx="1532.5" r="6.5" fill="#7a5a44"/><text class="leg" x="1542" y="5.5">16: Tausonia</text><circle class="lc" cx="1692" r="6.5" fill="#fcd0d0"/><text class="leg" x="1702" y="5.5">41: Mortierella</text></g>
<g transform="translate(0,460)"><circle class="lc" cx="1532.5" r="6.5" fill="#b3a184"/><text class="leg" x="1542" y="5.5">17: Genolevuria</text><circle class="lc" cx="1692" r="6.5" fill="#a6d0f5"/><text class="leg" x="1702" y="5.5">42: Acremonium</text></g>
<g transform="translate(0,482.8)"><circle class="lc" cx="1532.5" r="6.5" fill="#5a1a79"/><text class="leg" x="1542" y="5.5">18: Rhodotorula</text><circle class="lc" cx="1692" r="6.5" fill="#d4f8fa"/><text class="leg" x="1702" y="5.5">43: Phialophora</text></g>
<g transform="translate(0,505.6)"><circle class="lc" cx="1532.5" r="6.5" fill="#5e56a3"/><text class="leg" x="1542" y="5.5">19: Coniochaeta</text><circle class="lc" cx="1692" r="6.5" fill="#8b0bd0"/><text class="leg" x="1702" y="5.5">44: Neurospora</text></g>
<g transform="translate(0,528.4)"><circle class="lc" cx="1532.5" r="6.5" fill="#9c0d57"/><text class="leg" x="1542" y="5.5">20: Geotrichum</text><circle class="lc" cx="1692" r="6.5" fill="#8b5a0b"/><text class="leg" x="1702" y="5.5">45: Ascobolus</text></g>
<g transform="translate(0,551.2)"><circle class="lc" cx="1532.5" r="6.5" fill="#fcd98a"/><text class="leg" x="1542" y="5.5">21: Pseudoophiobolus</text><circle class="lc" cx="1692" r="6.5" fill="#cfcfcf"/><text class="leg" x="1702" y="5.5">46: Cystofilobasidium</text></g>
<g transform="translate(0,574)"><circle class="lc" cx="1532.5" r="6.5" fill="#e8459a"/><text class="leg" x="1542" y="5.5">22: Erythrobasidium</text><circle class="lc" cx="1692" r="6.5" fill="#6cc04a"/><text class="leg" x="1702" y="5.5">47: Pantospora</text></g>
<g transform="translate(0,596.8)"><circle class="lc" cx="1532.5" r="6.5" fill="#0d4d8c"/><text class="leg" x="1542" y="5.5">23: Ceratobasidium</text><circle class="lc" cx="1692" r="6.5" fill="#cfcf9f"/><text class="leg" x="1702" y="5.5">48: Holtermanniella</text></g>
<g transform="translate(0,619.6)"><circle class="lc" cx="1532.5" r="6.5" fill="#8f5aa5"/><text class="leg" x="1542" y="5.5">24: Sarocladium</text><circle class="lc" cx="1692" r="6.5" fill="#aec7e8"/><text class="leg" x="1702" y="5.5">49: Delicatula</text></g>
<g transform="translate(0,642.4)"><circle class="lc" cx="1532.5" r="6.5" fill="#f7a88a"/><text class="leg" x="1542" y="5.5">25: Aspergillus</text><circle class="lc" cx="1692" r="6.5" fill="#fdb46b"/><text class="leg" x="1702" y="5.5">50: Saitozyma</text></g>
</g>
</svg>
